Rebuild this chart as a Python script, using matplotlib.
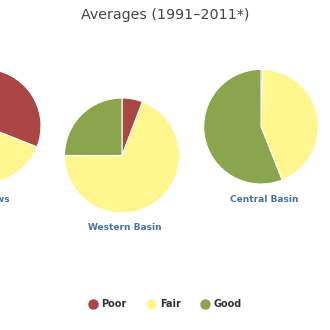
import matplotlib.pyplot as plt
from matplotlib.lines import Line2D

categories = ["Poor", "Fair", "Good"]
colors = ["#aa4643", "#fff68f", "#89a54e"]

pie_names = ["Tributary Inflows", "Western Basin", "Central Basin"]
inflows = [31, 35, 34]
western = [5.8, 69.2, 25.0]
central = [0.5, 43.5, 56.0]

W = 330
fig = plt.figure(figsize=(3.3, 3.3), dpi=100)
ax = fig.add_axes([0, 0, 1, 1])

# pie centre (px from left, px from top), radius, label y
layout = [(-16, 126, 57, 199), (122, 155.5, 57.5, 228), (261, 126.7, 57.3, 199)]
label_color = "#4672a4"

for vals, name, (cx, cy, r, ly) in zip([inflows, western, central], pie_names, layout):
    ax.pie(vals, colors=colors, startangle=90, counterclock=False,
           center=(cx, W - cy), radius=r,
           wedgeprops=dict(edgecolor="white", linewidth=0.8))
    if cx < 0:
        ax.text(10, W - ly, name, ha="right", va="center", fontsize=6.5,
                fontweight="bold", color=label_color)
    else:
        ax.text(cx + 3, W - ly, name, ha="center", va="center", fontsize=6.5,
                fontweight="bold", color=label_color)

ax.text(165, W - 15, "Averages (1991\u20132011*)", ha="center", va="center",
        fontsize=10.3, color="#444444")

handles = [Line2D([], [], marker="o", linestyle="", markersize=6.5,
                  markerfacecolor=c, markeredgecolor=c) for c in colors]
leg = ax.legend(handles, categories, ncol=3, loc="center",
                bbox_to_anchor=(0.5, 1 - 304 / W), frameon=False,
                handletextpad=0.4, columnspacing=2.0, handlelength=1.0,
                prop=dict(size=7, weight="bold"))
for t in leg.get_texts():
    t.set_color("#333333")

ax.set_xlim(0, W)
ax.set_ylim(0, W)
ax.set_aspect("equal")
ax.axis("off")
fig.savefig("out.png", dpi=100)
